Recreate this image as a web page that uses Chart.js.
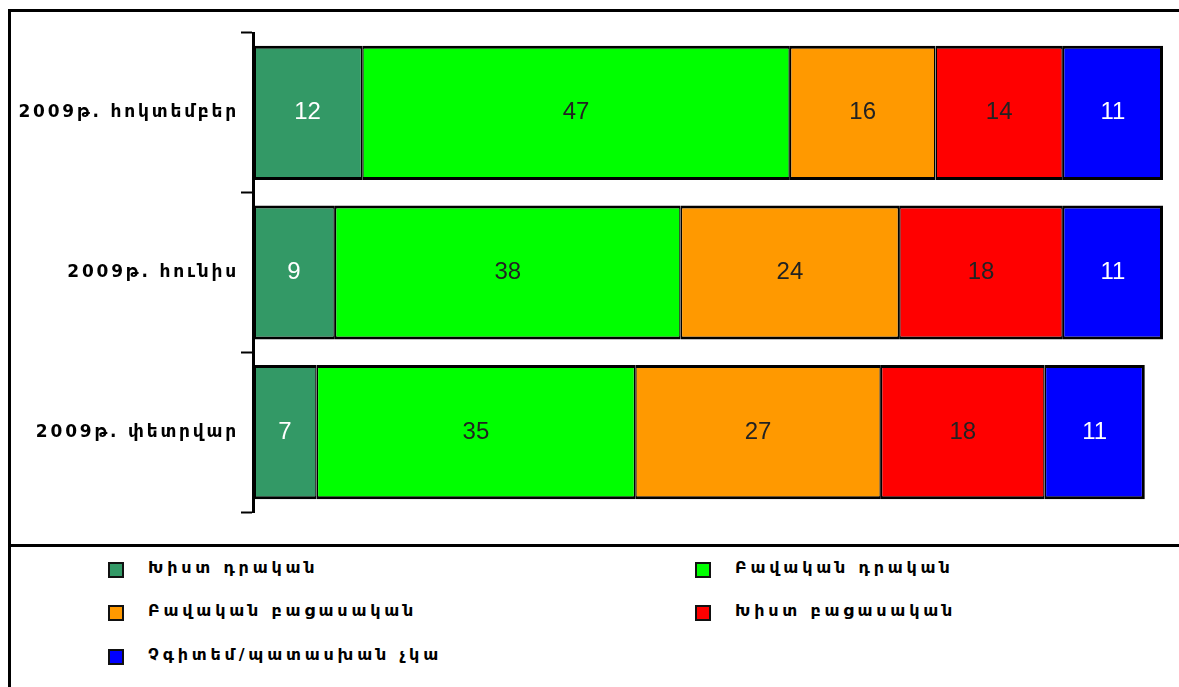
<!DOCTYPE html>
<html>
<head>
<meta charset="utf-8">
<script src="https://cdn.jsdelivr.net/npm/chart.js@4"></script>
<style>
  body { margin: 0; background: #fff; width: 1179px; height: 687px; overflow: hidden; position: relative; }
  #frame { position: absolute; left: 8px; top: 9px; width: 1180px; height: 675px;
           border-left: 3px solid #000; border-top: 3px solid #000; border-bottom: 1px solid #999; }
  #sep { position: absolute; left: 8px; top: 544px; width: 1180px; height: 3px; background: #000; }
  #chartBox { position: absolute; left: 0; top: 0; width: 1179px; height: 545px; }
  #legend { position: absolute; left: 0; top: 547px; width: 1179px; height: 140px;
            font-family: "DejaVu Sans", sans-serif; font-weight: bold; font-size: 16px; letter-spacing: 3.8px; color: #000; }
  .item { position: absolute; height: 16px; line-height: 16px; white-space: nowrap; }
  .item span.box { position: absolute; left: 0; top: 0; width: 12px; height: 12px; border: 2px solid #111; }
  .item span.txt { position: absolute; left: 40px; top: -2px; }
</style>
</head>
<body>
<div id="frame"></div>
<div id="sep"></div>
<div id="chartBox"><canvas id="myChart" width="1179" height="545"></canvas></div>
<div id="legend"></div>
<script>
const periods = ['2009թ. հոկտեմբեր', '2009թ. հունիս', '2009թ. փետրվար'];
const seriesNames = ['Խիստ դրական', 'Բավական դրական', 'Բավական բացասական', 'Խիստ բացասական', 'Չգիտեմ/պատասխան չկա'];
const strongPos = [12, 9, 7];
const fairPos = [47, 38, 35];
const fairNeg = [16, 24, 27];
const strongNeg = [14, 18, 18];
const dontKnow = [11, 11, 11];
const colors = ['#339966', '#00ff00', '#ff9900', '#ff0000', '#0000ff'];
const labelColors = ['#ffffff', '#222222', '#222222', '#222222', '#ffffff'];

const allValues = [strongPos, fairPos, fairNeg, strongNeg, dontKnow];

var datasets = [];
for (let i = 0; i < allValues.length; i++) {
  datasets.push({
    label: seriesNames[i],
    data: allValues[i],
    backgroundColor: colors[i],
    borderColor: '#000',
    borderSkipped: false,
    borderWidth: {top: 3, bottom: 3, left: i == 0 ? 3 : 1.5, right: i == allValues.length - 1 ? 3 : 1.5},
    barPercentage: 0.84,
    categoryPercentage: 1
  });
}

// letter spacing for the axis labels (canvas has no font option for it)
const spacing = {
  id: 'spacing',
  beforeUpdate(chart) { chart.ctx.letterSpacing = '2.8px'; },
  beforeDraw(chart) { chart.ctx.letterSpacing = '2.8px'; }
};

// numbers inside every segment
const valueLabels = {
  id: 'valueLabels',
  afterDatasetsDraw(chart) {
    const ctx = chart.ctx;
    ctx.save();
    ctx.letterSpacing = '0px';
    ctx.font = '24px "Liberation Sans", Arial, sans-serif';
    ctx.textAlign = 'center';
    ctx.textBaseline = 'middle';
    chart.data.datasets.forEach(function(ds, i) {
      chart.getDatasetMeta(i).data.forEach(function(bar, j) {
        ctx.fillStyle = labelColors[i];
        const p = bar.getCenterPoint();
        ctx.fillText(ds.data[j], p.x, p.y);
      });
    });
    ctx.restore();
  }
};

var ctx = document.getElementById('myChart').getContext('2d');
var chart = new Chart(ctx, {
  type: 'bar',
  data: { labels: periods, datasets: datasets },
  options: {
    indexAxis: 'y',
    responsive: false,
    animation: false,
    layout: { padding: { top: 33, bottom: 33, right: 16, left: 0 } },
    plugins: { legend: { display: false }, tooltip: { enabled: false } },
    scales: {
      x: { stacked: true, min: 0, max: 100, display: false },
      y: {
        stacked: true,
        afterFit(scale) { scale.width = 253; },
        border: { display: true, color: '#000', width: 3 },
        grid: { offset: true, drawOnChartArea: false, tickLength: 12, tickColor: '#000', tickWidth: 2 },
        ticks: { color: '#000', padding: 2, font: { family: '"DejaVu Sans", sans-serif', weight: 'bold', size: 17 } }
      }
    }
  },
  plugins: [spacing, valueLabels]
});

// legend in two columns, built from the chart's datasets
var pos = [[108, 562], [695, 562], [108, 605], [695, 605], [108, 649]];
var legend = document.getElementById('legend');
chart.data.datasets.forEach(function(ds, i) {
  var d = document.createElement('div');
  d.className = 'item';
  d.style.left = pos[i][0] + 'px';
  d.style.top = (pos[i][1] - 547) + 'px';
  d.innerHTML = '<span class="box" style="background:' + ds.backgroundColor + '"></span><span class="txt">' + ds.label + '</span>';
  legend.appendChild(d);
});
</script>
</body>
</html>
